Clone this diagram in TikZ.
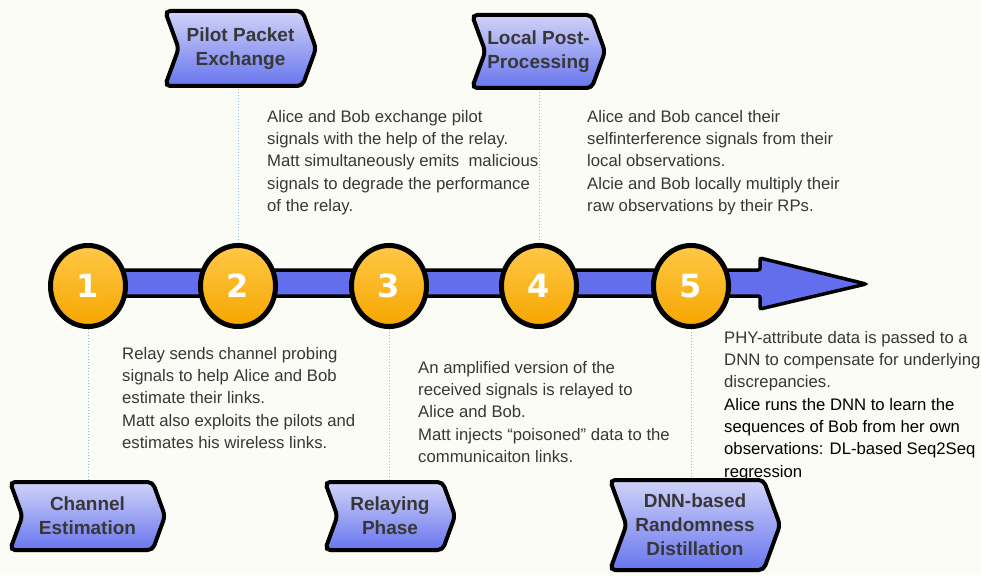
\documentclass[tikz,border=0pt]{standalone}
\usepackage{fontspec}
\setmainfont{Liberation Sans}
\newfontfamily\numfont{DejaVu Sans}
\usetikzlibrary{shapes.geometric,shapes.symbols,shadows}
\definecolor{bg}{RGB}{252,252,247}
\definecolor{barblue}{RGB}{98,110,235}
\definecolor{sigtop}{RGB}{208,211,248}
\definecolor{sigbot}{RGB}{104,117,238}
\definecolor{orangeA}{RGB}{255,200,70}
\definecolor{orangeM}{RGB}{250,176,10}
\definecolor{orangeB}{RGB}{246,166,0}
\definecolor{txtgray}{RGB}{55,55,55}
\definecolor{dotblue}{RGB}{140,185,230}
\begin{document}
\begin{tikzpicture}[x=1pt,y=-1pt,
  signpost/.style={signal, signal from=west, signal to=east, signal pointer angle=140,
    draw=black, line width=4pt, rounded corners=5pt, top color=sigtop, bottom color=sigbot,
    inner sep=0pt, font=\fontsize{19}{24}\selectfont\bfseries, text=txtgray, align=center,
    drop shadow={shadow xshift=1pt,shadow yshift=-2pt,fill=black!55}},
  stepnum/.style={ellipse, draw=black, line width=5pt, minimum width=75pt, minimum height=81pt,
    inner sep=0pt, top color=orangeA, middle color=orangeM, bottom color=orangeB,
    font=\numfont\bfseries\fontsize{32}{32}\selectfont, text=white},
  desc/.style={anchor=north west, inner sep=0pt, align=left,
    font=\fontsize{16.7}{22.3}\selectfont, text=txtgray},
  link/.style={draw=dotblue, line width=1pt, dotted}
]
\fill[bg] (0,0) rectangle (981,575);
\useasboundingbox (0,0) rectangle (981,575);

% timeline arrow
\draw[line width=3.5pt, fill=barblue, rounded corners=2pt]
  (88,270) -- (760,270) -- (760,258) -- (866,284) -- (760,309) -- (760,296) -- (88,296) -- cycle;

% step circles
\node[stepnum] (n1) at (88,286) {1};
\node[stepnum] (n2) at (238,286) {2};
\node[stepnum] (n3) at (389,286) {3};
\node[stepnum] (n4) at (539,286) {4};
\node[stepnum] (n5) at (691,286) {5};

% signposts
\node[signpost, minimum width=155pt, minimum height=68pt] (s1) at (87.5,516) {Channel\\Estimation};
\node[signpost, minimum width=151pt, minimum height=75pt] (s2) at (240.5,48.5) {Pilot Packet\\Exchange};
\node[signpost, minimum width=130pt, minimum height=68pt] (s3) at (390,516) {Relaying\\Phase};
\node[signpost, minimum width=133pt, minimum height=73pt] (s4) at (538.5,51.5) {Local Post-\\Processing};
\node[signpost, minimum width=170pt, minimum height=90pt] (s5) at (695,525) {DNN-based\\Randomness\\Distillation};

% links
\draw[link] (n1.south) -- (n1.south |- s1.north);
\draw[link] (n2.north) -- (n2.north |- s2.south);
\draw[link] (n3.south) -- (n3.south |- s3.north);
\draw[link] (n4.north) -- (n4.north |- s4.south);
\draw[link] (n5.south) -- (n5.south |- s5.north);

% descriptions
\node[desc] (d1) at (122,347) {Relay sends channel probing\\signals to help Alice and Bob\\estimate their links.\\Matt also exploits the pilots and\\estimates his wireless links.};
\node[desc] (d2) at (267,110) {Alice and Bob exchange pilot\\signals with the help of the relay.\\Matt simultaneously emits\ \ malicious\\signals to degrade the performance\\of the relay.};
\node[desc] (d3) at (418,361) {An amplified version of the\\received signals is relayed to\\Alice and Bob.\\Matt injects “poisoned” data to the\\communicaiton links.};
\node[desc] (d4) at (587,110) {Alice and Bob cancel their\\selfinterference signals from their\\local observations.\\Alcie and Bob locally multiply their\\raw observations by their RPs.};
\node[desc] (d5) at (724,331) {PHY-attribute data is passed to a\\DNN to compensate for underlying\\discrepancies.\\\textcolor{black}{Alice runs the DNN to learn the}\\\textcolor{black}{sequences of Bob from her own}\\\textcolor{black}{observations: DL-based Seq2Seq}\\\textcolor{black}{regression}};
\end{tikzpicture}
\end{document}
